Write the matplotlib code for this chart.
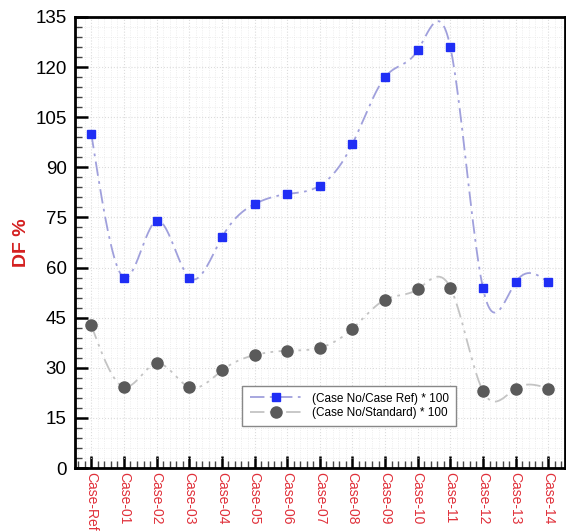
import matplotlib.pyplot as plt
import numpy as np
from matplotlib.ticker import MultipleLocator

cases = ['Case-Ref', 'Case-01', 'Case-02', 'Case-03', 'Case-04', 'Case-05',
         'Case-06', 'Case-07', 'Case-08', 'Case-09', 'Case-10', 'Case-11',
         'Case-12', 'Case-13', 'Case-14']
ratio_ref = [100, 57, 74, 57, 69, 79, 82, 84.5, 97, 117, 125, 126, 53.8, 55.6, 55.6]
ratio_std = [42.7, 24.3, 31.3, 24.2, 29.2, 33.8, 35.1, 36.0, 41.7, 50.4, 53.5, 54.0, 23.0, 23.8, 23.8]


def natural_spline(y, n=30):
    # smooth path through the points (natural cubic spline)
    y = np.asarray(y, float)
    m = len(y)
    x = np.arange(m)
    A = np.zeros((m, m))
    b = np.zeros(m)
    A[0, 0] = A[-1, -1] = 1
    for i in range(1, m - 1):
        A[i, i - 1], A[i, i], A[i, i + 1] = 1, 4, 1
        b[i] = 6 * (y[i + 1] - 2 * y[i] + y[i - 1])
    M = np.linalg.solve(A, b)
    xs, ys = [], []
    for i in range(m - 1):
        t = np.linspace(0, 1, n, endpoint=False)
        c1 = (y[i + 1] - y[i]) - (2 * M[i] + M[i + 1]) / 6
        c2 = M[i] / 2
        c3 = (M[i + 1] - M[i]) / 6
        xs.append(x[i] + t)
        ys.append(y[i] + c1 * t + c2 * t ** 2 + c3 * t ** 3)
    xs.append([x[-1]])
    ys.append([y[-1]])
    return np.concatenate(xs), np.concatenate(ys)


plt.rcParams['font.family'] = ['Liberation Sans', 'DejaVu Sans']

fig = plt.figure(figsize=(5.66, 5.31), dpi=100)
ax = fig.add_axes([0.1325, 0.1186, 0.865, 0.8494])

xi = np.arange(len(cases))
blue_line = dict(color='#a0a0dc', lw=1.3, dashes=(8, 3, 1.5, 3))
gray_line = dict(color='#c4c4c4', lw=1.3, dashes=(8, 3, 1.5, 3, 1.5, 3))

sx, sy = natural_spline(ratio_ref)
ax.plot(sx, sy, zorder=2, **blue_line)
sx, sy = natural_spline(ratio_std)
ax.plot(sx, sy, zorder=2, **gray_line)

ax.plot(xi, ratio_ref, ls='none', marker='s', ms=5.5, color='#1f2ef5', zorder=3)
ax.plot(xi, ratio_std, ls='none', marker='o', ms=8, color='#5a5a5a', zorder=3)

# legend proxies
ax.plot([], [], marker='s', ms=5.5, mfc='#1f2ef5', mec='#1f2ef5',
        label='(Case No/Case Ref) * 100', **blue_line)
ax.plot([], [], marker='o', ms=8, mfc='#5a5a5a', mec='#5a5a5a',
        label='(Case No/Standard) * 100', **gray_line)

ax.set_xlim(-0.5, 14.5)
ax.set_ylim(0, 135)
ax.set_xticks(xi)
ax.set_xticklabels(cases, rotation=270, color='#e0303a', fontsize=10)
ax.xaxis.set_minor_locator(MultipleLocator(0.2))
ax.yaxis.set_major_locator(MultipleLocator(15))
ax.yaxis.set_minor_locator(MultipleLocator(3))

ax.tick_params(which='major', direction='in', length=9, width=1.8, color='black')
ax.tick_params(which='minor', direction='in', length=5, width=1.0, color='#444444')
ax.tick_params(axis='y', labelsize=13.5, pad=6)
ax.tick_params(axis='x', pad=3)

ax.grid(which='major', color='#dcdcdc', lw=0.8, ls=':')
ax.grid(which='minor', color='#e8e8e8', lw=0.6, ls=':')
ax.set_axisbelow(True)

for s in ax.spines.values():
    s.set_linewidth(2)

ax.set_ylabel('DF %', color='#d42020', fontsize=14, fontweight='bold', labelpad=4)

leg = ax.legend(loc='lower left', bbox_to_anchor=(0.33, 0.08), fontsize=8.5,
                fancybox=False, framealpha=1, edgecolor='#888888',
                handlelength=4.5, borderpad=0.6, labelspacing=0.2)
leg.get_frame().set_linewidth(1.0)

fig.savefig('out.png', dpi=100)
